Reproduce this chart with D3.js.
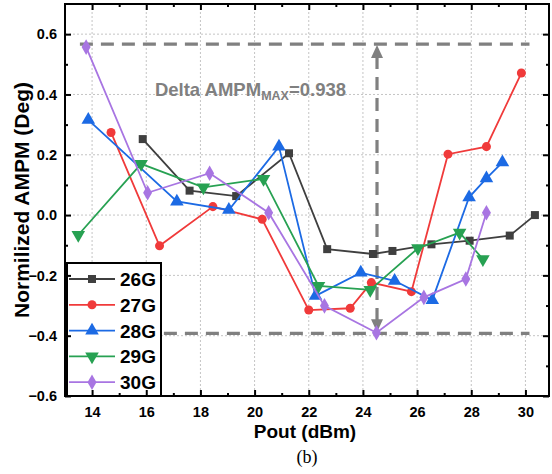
<!DOCTYPE html>
<html>
<head>
<meta charset="utf-8">
<script src="https://cdn.jsdelivr.net/npm/d3@7"></script>
<style>
  body { margin: 0; background: #fff; }
  text { font-family: Arial, "Liberation Sans", sans-serif; }
</style>
</head>
<body>
<div id="chart"></div>
<script>
// values
const xTicks = [14, 16, 18, 20, 22, 24, 26, 28, 30]
const yTicks = [-0.6, -0.4, -0.2, 0.0, 0.2, 0.4, 0.6]

const x26 = [15.87, 17.6, 19.32, 21.27, 22.68, 24.37, 25.09, 26.53, 27.94, 29.42, 30.35]
const y26 = [0.252, 0.081, 0.063, 0.205, -0.113, -0.129, -0.119, -0.097, -0.085, -0.068, 0.0]

const x27 = [14.7, 16.49, 18.46, 20.28, 22.0, 23.53, 24.31, 25.79, 27.14, 28.56, 29.85]
const y27 = [0.274, -0.102, 0.028, -0.014, -0.315, -0.309, -0.224, -0.254, 0.202, 0.227, 0.471]

const x28 = [13.86, 17.13, 19.05, 20.9, 22.25, 23.92, 25.17, 26.56, 27.92, 28.56, 29.15]
const y28 = [0.316, 0.045, 0.017, 0.227, -0.268, -0.191, -0.218, -0.282, 0.059, 0.122, 0.175]

const x29 = [13.49, 15.81, 18.11, 20.33, 22.36, 24.27, 26.03, 27.57, 28.43]
const y29 = [-0.066, 0.17, 0.092, 0.12, -0.235, -0.248, -0.11, -0.058, -0.146]

const x30 = [13.78, 16.05, 18.34, 20.52, 22.58, 24.5, 26.25, 27.8, 28.56]
const y30 = [0.557, 0.074, 0.139, 0.008, -0.301, -0.39, -0.273, -0.212, 0.008]

const seriesNames = ['26G', '27G', '28G', '29G', '30G']

// annotation
const deltaMax = 0.567
const deltaMin = -0.392
const deltaX = 24.52
const deltaFrom = 13.55
const deltaTo = 30.15

const width = 552
const height = 474
const margin = { top: 4, right: 3, bottom: 78, left: 65 }
const w = width - margin.left - margin.right
const h = height - margin.top - margin.bottom

const colors = ['#3f3f3f', '#f03a3a', '#1c6ae4', '#27a152', '#a875e2']
const shapes = [d3.symbolSquare, d3.symbolCircle, d3.symbolTriangle, d3.symbolTriangle, d3.symbolDiamond]
const sizes = [64, 64, 80, 80, 70]
const rotations = [0, 0, 0, 180, 0]

const series = [
  { xs: x26, ys: y26 },
  { xs: x27, ys: y27 },
  { xs: x28, ys: y28 },
  { xs: x29, ys: y29 },
  { xs: x30, ys: y30 }
].map((s, i) => ({
  name: seriesNames[i],
  color: colors[i],
  points: s.xs.map((v, j) => ({ x: v, y: s.ys[j] }))
}))

const svg = d3.select('#chart')
  .append('svg')
  .attr('width', width)
  .attr('height', height)

const g = svg.append('g')
  .attr('transform', `translate(${margin.left}, ${margin.top})`)

const scaleX = d3.scaleLinear().domain([13, 30.87]).range([0, w])
const scaleY = d3.scaleLinear().domain([-0.6, 0.7]).range([h, 0])

// grid
g.append('g')
  .selectAll('line')
  .data(xTicks)
  .join('line')
  .attr('x1', (d) => scaleX(d))
  .attr('x2', (d) => scaleX(d))
  .attr('y1', 0)
  .attr('y2', h)
  .attr('stroke', '#c4c4c4')
  .attr('stroke-dasharray', '2,2')
g.append('g')
  .selectAll('line')
  .data(yTicks.filter((d) => d > -0.6))
  .join('line')
  .attr('x1', 0)
  .attr('x2', w)
  .attr('y1', (d) => scaleY(d))
  .attr('y2', (d) => scaleY(d))
  .attr('stroke', '#c4c4c4')
  .attr('stroke-dasharray', '2,2')

// delta annotation
const dash = g.append('g')
  .attr('stroke', '#808080')
  .attr('stroke-width', 3.2)
  .attr('stroke-dasharray', '13,8')
dash.append('line')
  .attr('x1', scaleX(deltaFrom)).attr('x2', scaleX(deltaTo))
  .attr('y1', scaleY(deltaMax)).attr('y2', scaleY(deltaMax))
dash.append('line')
  .attr('x1', scaleX(deltaFrom)).attr('x2', scaleX(deltaTo))
  .attr('y1', scaleY(deltaMin)).attr('y2', scaleY(deltaMin))
dash.append('line')
  .attr('x1', scaleX(deltaX)).attr('x2', scaleX(deltaX))
  .attr('y1', scaleY(deltaMax) + 12).attr('y2', scaleY(deltaMin) - 12)

const ax = scaleX(deltaX)
g.append('path')
  .attr('d', `M${ax},${scaleY(deltaMax) + 1} l-6,13 l12,0 Z`)
  .attr('fill', '#808080')
g.append('path')
  .attr('d', `M${ax},${scaleY(deltaMin) - 1} l-6,-13 l12,0 Z`)
  .attr('fill', '#808080')

const label = g.append('text')
  .attr('x', scaleX(16.32))
  .attr('y', scaleY(0.395))
  .attr('fill', '#808080')
  .style('font-size', '18.5px')
  .style('font-weight', 'bold')
label.append('tspan').text('Delta AMPM')
label.append('tspan').attr('dy', 4).style('font-size', '12.5px').text('MAX')
label.append('tspan').attr('dy', -4).text('=0.938')

// series
const line = d3.line()
  .x((d) => scaleX(d.x))
  .y((d) => scaleY(d.y))

series.forEach((s, i) => {
  g.append('path')
    .attr('d', line(s.points))
    .attr('fill', 'none')
    .attr('stroke', s.color)
    .attr('stroke-width', 1.8)
  g.append('g')
    .selectAll('path')
    .data(s.points)
    .join('path')
    .attr('transform', (d) => `translate(${scaleX(d.x)}, ${scaleY(d.y)}) rotate(${rotations[i]})`)
    .attr('d', d3.symbol().type(shapes[i]).size(sizes[i]))
    .attr('fill', s.color)
})

// legend
const lg = g.append('g').attr('transform', 'translate(2, 259)')
lg.append('rect')
  .attr('width', 94)
  .attr('height', h - 259)
  .attr('fill', '#fff')
  .attr('stroke', '#000')
  .attr('stroke-width', 2)
series.forEach((s, i) => {
  const yy = 16 + i * 25.8
  lg.append('line')
    .attr('x1', 2).attr('x2', 48)
    .attr('y1', yy).attr('y2', yy)
    .attr('stroke', s.color)
    .attr('stroke-width', 1.8)
  lg.append('path')
    .attr('transform', `translate(25, ${yy}) rotate(${rotations[i]})`)
    .attr('d', d3.symbol().type(shapes[i]).size(sizes[i]))
    .attr('fill', s.color)
  lg.append('text')
    .attr('x', 53)
    .attr('y', yy + 7)
    .style('font-size', '19px')
    .style('font-weight', 'bold')
    .text(s.name)
})

// axes
const styleAxis = (sel) => {
  sel.select('.domain').remove()
  sel.selectAll('.tick line').attr('stroke', '#000').attr('stroke-width', 2)
  sel.selectAll('.tick text')
    .style('font-size', '14.5px')
    .style('font-weight', 'bold')
    .attr('fill', '#000')
}
const xMinor = [15, 17, 19, 21, 23, 25, 27, 29]
const yMinor = [-0.5, -0.3, -0.1, 0.1, 0.3, 0.5]

g.append('g')
  .attr('transform', `translate(0, ${h})`)
  .call(d3.axisBottom(scaleX).tickValues(xTicks).tickSize(-6).tickPadding(11).tickFormat(d3.format('d')))
  .call(styleAxis)
g.append('g')
  .attr('transform', `translate(0, ${h})`)
  .call(d3.axisBottom(scaleX).tickValues(xMinor).tickSize(-3).tickFormat(''))
  .call(styleAxis)
g.append('g')
  .call(d3.axisTop(scaleX).tickValues(xTicks).tickSize(-6).tickFormat(''))
  .call(styleAxis)
g.append('g')
  .call(d3.axisTop(scaleX).tickValues(xMinor).tickSize(-3).tickFormat(''))
  .call(styleAxis)
g.append('g')
  .call(d3.axisLeft(scaleY).tickValues(yTicks).tickSize(-6).tickPadding(8).tickFormat(d3.format('.1f')))
  .call(styleAxis)
g.append('g')
  .call(d3.axisLeft(scaleY).tickValues(yMinor).tickSize(-3).tickFormat(''))
  .call(styleAxis)
g.append('g')
  .attr('transform', `translate(${w}, 0)`)
  .call(d3.axisRight(scaleY).tickValues(yTicks).tickSize(-6).tickFormat(''))
  .call(styleAxis)
g.append('g')
  .attr('transform', `translate(${w}, 0)`)
  .call(d3.axisRight(scaleY).tickValues(yMinor).tickSize(-3).tickFormat(''))
  .call(styleAxis)

g.append('rect')
  .attr('width', w)
  .attr('height', h)
  .attr('fill', 'none')
  .attr('stroke', '#000')
  .attr('stroke-width', 2)

// titles
svg.append('text')
  .attr('x', 305)
  .attr('y', 438)
  .attr('text-anchor', 'middle')
  .style('font-size', '19px')
  .style('font-weight', 'bold')
  .text('Pout (dBm)')
svg.append('text')
  .attr('transform', `translate(29, ${margin.top + 196}) rotate(-90)`)
  .attr('text-anchor', 'middle')
  .style('font-size', '21px')
  .style('font-weight', 'bold')
  .text('Normilized AMPM (Deg)')
svg.append('text')
  .attr('x', 307)
  .attr('y', 463)
  .attr('text-anchor', 'middle')
  .style('font-family', '"Liberation Serif", "Times New Roman", serif')
  .style('font-size', '18px')
  .text('(b)')
</script>
</body>
</html>
